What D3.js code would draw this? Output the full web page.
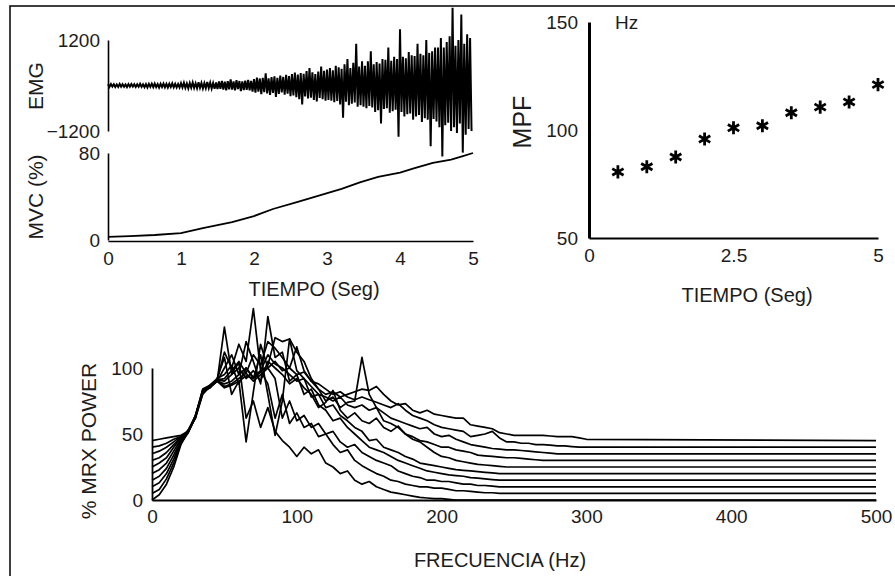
<!DOCTYPE html>
<html>
<head>
<meta charset="utf-8">
<script src="https://cdn.jsdelivr.net/npm/d3@7"></script>
<style>
  body { margin: 0; background: #fff; }
  text { font-family: "Liberation Sans", Arial, Helvetica, sans-serif; fill: #1c1c1c; }
</style>
</head>
<body>
<svg id="fig" width="895" height="576"></svg>
<script>
// ---------- Raw EMG (sampled every 0.02 s, 0 – 5 s) ----------
const emgStep = 0.02;
const emgValues = [
  30,-35,40,-28,35,-40,25,-38,42,-30,33,-36,28,-42,38,-32,40,-27,35,-39,30,-34,44,-36,32,
  -45,38,-50,42,-36,48,-44,52,-40,35,-55,46,-38,50,-48,42,-52,45,-40,56,-47,44,-50,38,-53,
  60,-55,70,-62,52,-75,66,-58,80,-64,58,-72,85,-60,68,-78,62,-70,90,-66,74,-80,64,-85,78,
  -95,110,-88,120,-105,98,-130,115,-100,160,-110,105,-125,140,-95,118,-150,108,-120,130,-112,145,-128,122,-160,
  170,-190,210,-160,185,-230,200,-175,320,-210,190,-250,220,-195,240,-300,205,-225,260,-185,230,-240,280,-215,250,
  -280,300,-260,340,-310,290,-360,330,-500,310,-290,380,-340,460,-320,350,-380,300,-420,370,-330,500,-360,390,-400,
  420,-380,460,-400,400,-440,520,-410,480,-500,440,-850,560,-430,700,-520,460,-480,600,-450,1100,-560,500,-520,640,
  -560,520,-600,640,-540,900,-580,560,-700,620,-650,580,-1000,700,-620,680,-600,1000,-720,650,-680,760,-640,700,-1350,
  1480,-700,760,-820,720,-760,880,-740,800,-900,780,-820,1100,-780,840,-960,800,-860,1200,-900,860,-1600,900,-880,1000,
  -950,1000,-1100,1250,-1870,1000,-1050,1150,-980,1300,-1200,2050,-1100,1050,-1250,1200,-1000,1870,-1770,1100,-1300,1350,-1150,1250,-1200
];

// ---------- Force (% MVC) ----------
const mvcTime  = [0, 0.3, 0.64, 1.0, 1.3, 1.7, 2.0, 2.26, 2.6, 2.9, 3.2, 3.45, 3.7, 4.0, 4.2, 4.45, 4.7, 4.85, 5.0];
const mvcValue = [2.8, 3.5, 4.6, 6.4, 11, 16.5, 22, 28.5, 35, 41, 47, 53, 58, 62, 66, 71, 74, 77, 80];

// ---------- Mean power frequency ----------
const mpfTime  = [0.5, 1.0, 1.5, 2.0, 2.5, 3.0, 3.5, 4.0, 4.5, 5.0];
const mpfValue = [80.6, 83, 87.5, 95.8, 101, 102, 108, 110.6, 113, 121];

// ---------- Power spectra (stacked, offset by 5 %) ----------
const freqs = [
  0,5,10,15,20,25,30,35,40,45,
  50,55,60,65,70,75,80,85,90,95,
  100,105,110,115,120,125,130,135,140,145,
  150,155,160,165,170,175,180,185,190,195,
  200,205,210,215,220,225,230,235,240,245,
  250,255,260,265,270,275,280,285,290,295,
  300,500
];
const spec0 = [0,4,12,25,42,52,62,80,86,90, 131,96,104,62,75,55,70,52,45,40, 33,40,35,38,28,25,20,22,15,12,
  14,10,8,6,5,4,3,2,1.5,1, 1,0.5,0,0,0,0,0,0,0,0, 0,0,0,0,0,0,0,0,0,0, 0,0];
const spec1 = [5,8,16,28,43,51,63,82,85,91, 112,100,118,105,145,98,88,62,80,58, 66,55,58,48,50,42,36,38,30,26,
  23,20,18,15,14,12,11,10,10,9, 9,8,7,7,6.5,6,5.5,5.5,5,5, 5,5,5,5,5,5,5,5,5,5, 5,5];
const spec2 = [10,13,20,31,44,52,64,81,87,92, 108,80,90,44,82,118,100,92,62,75, 60,64,55,58,50,52,44,40,42,36,
  33,30,28,26,22,20,18,17,15,15, 14,14,13,12,12,11,11,10.5,10,10, 10,10,10,10,10,10,10,10,10,10, 10,10];
const spec3 = [15,18,24,34,45,53,62,83,86,90, 100,110,95,120,105,88,139,108,112,90, 95,80,84,72,68,60,62,55,50,45,
  40,38,36,33,30,28,26,24,22,21, 20,19,18.5,18,17,16.5,16,15.5,15,15, 15,15,15,15,15,15,15,15,15,15, 15,15];
const spec4 = [20,23,28,37,46,51,63,82,85,92, 95,102,88,100,92,110,80,49,75,122, 98,92,78,80,70,72,64,60,55,52,
  45,46,40,38,36,33,31,28,27,26, 25,24,23,22.5,22,21.5,21,20.5,20,20, 20,20,20,20,20,20,20,20,20,20, 20,20];
const spec5 = [25,28,32,40,47,52,64,84,87,91, 92,98,105,96,110,102,120,115,108,100, 116,98,90,84,75,78,70,74,75,108,
  80,70,60,58,55,50,46,44,40,36, 33,32,30,29,28,27,26.5,26,25.5,25, 25,25,25,25,25,25,25,25,25,25, 25,25];
const spec6 = [30,32,36,42,47,53,63,82,86,91, 90,95,100,92,98,90,105,100,95,88, 92,85,80,70,74,83,68,62,66,60,
  58,62,55,52,56,50,48,45,44,42, 40,40,38,37,36,34,33.5,33,32.5,32, 32,31.5,31,30.5,30,30,30,30,30,30, 30,30];
const spec7 = [35,37,40,44,48,52,63,83,85,90, 88,90,95,100,93,98,110,103,100,95, 90,92,86,80,78,75,78,72,70,72,
  68,70,66,62,60,58,56,54,55,50, 48,49,46,44,42,41,40,39,38.5,38, 38,37.5,37,36.5,36,35.5,35,35,35,35, 35,35];
const spec8 = [40,41,43,46,48,52,64,82,86,91, 86,88,92,96,90,95,100,105,98,100, 95,97,90,88,84,80,82,78,76,78,
  76,74,72,70,73,68,64,62,60,57, 55,54,53,52,48,49,50,52,47,44, 44,43,43,42,42,41.5,41,41,40.5,40, 40,40];
const spec9 = [45,46,47,48,49,52,63,81,86,90, 85,87,90,94,92,97,102,123,120,122, 112,105,92,84,80,82,78,80,82,84,
  83,86,80,75,72,73,68,66,68,65, 64,63,62,62,57,56,55,54,51,50, 49,49,49,49,49,48.5,48,48,48,47, 46,45];
const spectra = [spec0, spec1, spec2, spec3, spec4, spec5, spec6, spec7, spec8, spec9];

// ---------- Tick labels ----------
const timeTicks    = [0, 1, 2, 3, 4, 5];
const emgTicks     = [-1200, 1200];
const mvcTicks     = [0, 80];
const mpfTicks     = [50, 100, 150];
const mpfTimeTicks = [0, 2.5, 5];
const powerTicks   = [0, 50, 100];
const freqTicks    = [0, 100, 200, 300, 400, 500];

const svg = d3.select("#fig");
const TICK_FONT = 19;

function styleAxis(g, width) {
  g.attr("font-family", null).attr("font-size", null);
  g.select(".domain").attr("stroke", "#000").attr("stroke-width", width);
  g.selectAll(".tick line").remove();
  g.selectAll(".tick text").attr("font-size", TICK_FONT).attr("fill", "#1c1c1c");
}

// Frame
svg.append("path").attr("d", "M10,576V6H895").attr("fill", "none").attr("stroke", "#000").attr("stroke-width", 1.5);

// ---------- Panel A: EMG and force vs time ----------
const xT   = d3.scaleLinear([0, 5], [108, 473]);
const yEMG = d3.scaleLinear([-1200, 1200], [131, 40]);
const yMVC = d3.scaleLinear([0, 80], [240, 153]);

svg.append("g").attr("transform", "translate(108,0)")
  .call(d3.axisLeft(yEMG).tickValues(emgTicks).tickSize(0).tickSizeOuter(0).tickPadding(8).tickFormat(d3.format("d")))
  .call(g => styleAxis(g, 1.6));
svg.append("g").attr("transform", "translate(108,0)")
  .call(d3.axisLeft(yMVC).tickValues(mvcTicks).tickSize(0).tickSizeOuter(0).tickPadding(8))
  .call(g => styleAxis(g, 1.6));
svg.append("g").attr("transform", "translate(0,241)")
  .call(d3.axisBottom(xT).tickValues(timeTicks).tickSize(0).tickSizeOuter(0).tickPadding(11).tickFormat(d3.format("d")))
  .call(g => styleAxis(g, 1.6));

svg.append("path")
  .datum(emgValues)
  .attr("fill", "none").attr("stroke", "#000").attr("stroke-width", 2)
  .attr("d", d3.line().x((d, i) => xT(i * emgStep)).y(d => yEMG(d)));

svg.append("path")
  .datum(mvcTime.map((t, i) => [t, mvcValue[i]]))
  .attr("fill", "none").attr("stroke", "#000").attr("stroke-width", 1.8)
  .attr("d", d3.line().x(d => xT(d[0])).y(d => yMVC(d[1])));

svg.append("text").attr("transform", "translate(43,86) rotate(-90)").attr("text-anchor", "middle").attr("font-size", 21).text("EMG");
svg.append("text").attr("transform", "translate(43,197) rotate(-90)").attr("text-anchor", "middle").attr("font-size", 21).text("MVC (%)");
svg.append("text").attr("x", 314).attr("y", 296).attr("text-anchor", "middle").attr("font-size", 20).text("TIEMPO (Seg)");

// ---------- Panel B: mean power frequency vs time ----------
const xR = d3.scaleLinear([0, 5], [589, 878]);
const yR = d3.scaleLinear([50, 150], [238, 22]);

svg.append("g").attr("transform", "translate(589,0)")
  .call(d3.axisLeft(yR).tickValues(mpfTicks).tickSize(0).tickSizeOuter(0).tickPadding(11))
  .call(g => styleAxis(g, 3));
svg.append("g").attr("transform", "translate(0,238)")
  .call(d3.axisBottom(xR).tickValues(mpfTimeTicks).tickSize(0).tickSizeOuter(0).tickPadding(11).tickFormat(d => String(d)))
  .call(g => styleAxis(g, 2));

svg.append("g").selectAll("path")
  .data(mpfTime.map((t, i) => [t, mpfValue[i]]))
  .join("path")
  .attr("transform", d => `translate(${xR(d[0])},${yR(d[1])})`)
  .attr("d", d3.symbol(d3.symbolAsterisk, 120))
  .attr("fill", "none").attr("stroke", "#000").attr("stroke-width", 2.8);

svg.append("text").attr("transform", "translate(531,122) rotate(-90)").attr("text-anchor", "middle").attr("font-size", 25).text("MPF");
svg.append("text").attr("x", 615).attr("y", 29).attr("font-size", 19).text("Hz");
svg.append("text").attr("x", 747).attr("y", 302).attr("text-anchor", "middle").attr("font-size", 20).text("TIEMPO (Seg)");

// ---------- Panel C: stacked power spectra ----------
const xF = d3.scaleLinear([0, 500], [152, 876]);
const yP = d3.scaleLinear([0, 100], [500, 368]);

svg.append("g").attr("transform", "translate(152,0)")
  .call(d3.axisLeft(yP).tickValues(powerTicks).tickSize(0).tickSizeOuter(0).tickPadding(9))
  .call(g => styleAxis(g, 1.8));
svg.append("g").attr("transform", "translate(0,500)")
  .call(d3.axisBottom(xF).tickValues(freqTicks).tickSize(0).tickSizeOuter(0).tickPadding(10))
  .call(g => styleAxis(g, 1.8));

const specLine = d3.line().x((d, i) => xF(freqs[i])).y(d => yP(d));
svg.append("g").selectAll("path")
  .data(spectra)
  .join("path")
  .attr("fill", "none").attr("stroke", "#000").attr("stroke-width", 1.7).attr("stroke-linejoin", "round")
  .attr("d", specLine);

svg.append("text").attr("transform", "translate(96,441) rotate(-90)").attr("text-anchor", "middle").attr("font-size", 21).text("% MRX POWER");
svg.append("text").attr("x", 500).attr("y", 567).attr("text-anchor", "middle").attr("font-size", 20).text("FRECUENCIA (Hz)");
</script>
</body>
</html>
